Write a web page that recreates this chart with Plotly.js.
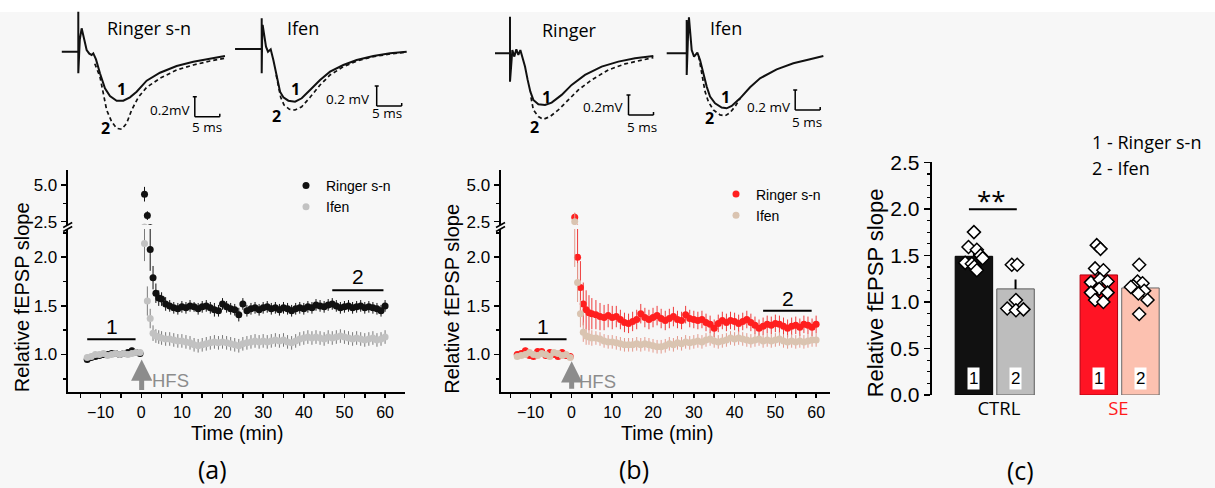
<!DOCTYPE html>
<html><head><meta charset="utf-8">
<script src="https://cdn.plot.ly/plotly-3.0.1.min.js"></script>
<style>html,body{margin:0;padding:0;background:#f7f7f7;} #chart{width:1215px;height:488px;}</style>
</head><body><div id="chart"></div>
<script>
// ---------------- DATA ----------------
// time axis (min) shared by panels (a) and (b)
const timeMin = [-13.3,-12.3,-11.3,-10.3,-9.3,-8.3,-7.3,-6.3,-5.3,-4.3,-3.3,-2.3,-1.3,-0.3,
  0.8,1.5,2.2,2.9,3.6,4.3,5,
  6,7,8,9,10,11,12,13,14,15,16,17,18,19,20,21,22,23,24,25,26,27,28,29,30,
  31,32,33,34,35,36,37,38,39,40,41,42,43,44,45,46,47,48,49,50,51,52,53,54,55,56,57,58,59,60];

// panel (a) CTRL
const ctrlRinger = [0.95,0.97,0.98,0.99,1.00,1.00,1.01,1.01,1.00,1.01,1.02,1.04,1.02,1.01,
  4.37,2.91,2.08,1.79,1.63,1.58,1.57,
  1.52,1.50,1.48,1.47,1.49,1.48,1.50,1.49,1.47,1.49,1.50,1.48,1.46,1.45,1.52,1.49,1.47,1.46,1.41,1.52,1.45,1.47,1.48,1.46,1.48,
  1.49,1.47,1.48,1.46,1.48,1.47,1.45,1.47,1.48,1.47,1.49,1.48,1.51,1.50,1.49,1.51,1.52,1.50,1.48,1.49,1.50,1.48,1.49,1.50,1.48,1.49,1.48,1.47,1.45,1.50];
const ctrlRingerSem = [0.03,0.03,0.03,0.03,0.03,0.03,0.03,0.03,0.03,0.03,0.03,0.03,0.03,0.03,
  0.50,0.30,0.22,0.12,0.10,0.08,0.07,
  0.07,0.06,0.06,0.06,0.06,0.06,0.06,0.05,0.06,0.06,0.06,0.06,0.07,0.06,0.06,0.06,0.06,0.06,0.07,0.06,0.06,0.06,0.06,0.06,0.06,
  0.06,0.06,0.06,0.06,0.06,0.06,0.06,0.06,0.06,0.06,0.06,0.06,0.06,0.06,0.06,0.06,0.06,0.06,0.06,0.06,0.06,0.06,0.06,0.06,0.06,0.06,0.06,0.06,0.06,0.06];
const ctrlIfen = [0.97,0.98,1.00,1.00,1.01,0.99,1.00,1.01,1.00,1.01,1.00,1.01,1.02,1.02,
  2.14,1.55,1.37,1.22,1.19,1.18,1.17,
  1.16,1.16,1.15,1.14,1.14,1.13,1.12,1.10,1.09,1.10,1.11,1.12,1.13,1.12,1.13,1.12,1.11,1.10,1.09,1.11,1.12,1.13,1.14,1.13,1.14,
  1.13,1.14,1.15,1.14,1.15,1.13,1.12,1.14,1.16,1.17,1.18,1.17,1.18,1.17,1.16,1.18,1.17,1.18,1.19,1.18,1.17,1.16,1.17,1.16,1.15,1.16,1.17,1.15,1.16,1.18];
const ctrlIfenSem = [0.03,0.03,0.03,0.03,0.03,0.03,0.03,0.03,0.03,0.03,0.03,0.03,0.03,0.03,
  0.18,0.15,0.10,0.08,0.07,0.07,0.07,
  0.07,0.07,0.07,0.07,0.07,0.07,0.07,0.07,0.07,0.07,0.07,0.07,0.07,0.07,0.07,0.07,0.07,0.07,0.07,0.07,0.07,0.07,0.07,0.07,0.07,
  0.07,0.07,0.07,0.07,0.07,0.07,0.07,0.07,0.07,0.07,0.07,0.07,0.07,0.07,0.07,0.07,0.07,0.07,0.07,0.07,0.07,0.07,0.07,0.07,0.07,0.07,0.07,0.07,0.07,0.07];

// panel (b) SE
const seRinger = [1.00,1.01,1.04,0.99,0.98,1.03,1.03,0.99,1.02,1.00,0.98,1.02,0.99,0.98,
  2.80,2.00,1.69,1.52,1.46,1.43,1.42,
  1.41,1.39,1.38,1.40,1.38,1.39,1.36,1.33,1.32,1.34,1.36,1.42,1.38,1.36,1.38,1.40,1.37,1.35,1.37,1.39,1.36,1.35,1.41,1.37,1.36,
  1.35,1.36,1.33,1.31,1.27,1.32,1.35,1.33,1.35,1.34,1.32,1.34,1.36,1.33,1.30,1.27,1.29,1.31,1.30,1.32,1.31,1.29,1.27,1.29,1.30,1.28,1.31,1.30,1.28,1.31];
const seRingerSem = [0.03,0.03,0.03,0.03,0.03,0.03,0.03,0.03,0.03,0.03,0.03,0.03,0.03,0.03,
  0.30,0.30,0.27,0.22,0.20,0.18,0.16,
  0.15,0.14,0.13,0.12,0.12,0.11,0.10,0.10,0.10,0.10,0.10,0.10,0.10,0.10,0.10,0.10,0.10,0.10,0.10,0.10,0.09,0.09,0.09,0.09,0.09,
  0.09,0.09,0.09,0.09,0.09,0.09,0.09,0.09,0.09,0.09,0.09,0.09,0.09,0.09,0.09,0.09,0.09,0.09,0.09,0.09,0.09,0.09,0.09,0.09,0.09,0.09,0.09,0.09,0.09,0.09];
const seIfen = [0.98,0.99,1.00,1.02,1.00,0.99,1.01,1.00,0.98,1.02,1.01,0.99,1.00,0.97,
  2.50,1.74,1.42,1.23,1.19,1.18,1.17,
  1.17,1.16,1.14,1.13,1.13,1.12,1.11,1.10,1.10,1.10,1.11,1.10,1.11,1.10,1.09,1.08,1.08,1.09,1.11,1.10,1.12,1.11,1.13,1.12,1.13,
  1.14,1.13,1.15,1.16,1.14,1.13,1.14,1.15,1.17,1.16,1.17,1.16,1.15,1.14,1.15,1.16,1.14,1.15,1.14,1.15,1.16,1.14,1.13,1.14,1.13,1.14,1.13,1.14,1.15,1.15];
const seIfenSem = [0.025,0.025,0.025,0.025,0.025,0.025,0.025,0.025,0.025,0.025,0.025,0.025,0.025,0.025,
  0.60,0.20,0.14,0.10,0.09,0.08,0.08,
  0.07,0.07,0.07,0.07,0.07,0.07,0.07,0.07,0.07,0.07,0.07,0.07,0.07,0.07,0.07,0.07,0.07,0.07,0.07,0.07,0.07,0.07,0.07,0.07,0.07,
  0.07,0.07,0.07,0.07,0.07,0.07,0.07,0.07,0.07,0.07,0.07,0.07,0.07,0.07,0.07,0.07,0.07,0.07,0.07,0.07,0.07,0.07,0.07,0.07,0.07,0.07,0.07,0.07,0.07,0.07];

// panel (c) bar means / SEM and individual slices
const groups = ['CTRL', 'SE'];
const barMeans = [1.49, 1.14, 1.29, 1.15];
const barSem = [0.05, 0.10, 0.08, 0.06];
const barLabels = ['1', '2', '1', '2'];
const ctrlRingerPts = [1.75, 1.59, 1.56, 1.50, 1.47, 1.42, 1.41, 1.38, 1.34];
const ctrlRingerJit = [0.00, -0.13, 0.07, 0.16, 0.21, -0.21, -0.05, 0.01, 0.07];
const ctrlIfenPts = [1.40, 1.40, 1.02, 0.93, 0.91, 0.92];
const ctrlIfenJit = [-0.09, 0.04, 0.01, -0.20, 0.01, 0.19];
const seRingerPts = [1.61, 1.57, 1.36, 1.34, 1.21, 1.24, 1.22, 1.14, 1.10, 1.10, 1.02, 1.00];
const seRingerJit = [-0.05, 0.04, -0.09, 0.11, -0.19, 0.03, 0.21, 0.01, -0.19, 0.21, -0.09, 0.11];
const seIfenPts = [1.40, 1.22, 1.20, 1.17, 1.16, 1.12, 1.09, 1.02, 0.87];
const seIfenJit = [-0.03, -0.07, 0.05, -0.17, -0.23, 0.09, -0.05, 0.17, -0.03];

// example fEPSP traces (ms, mV)
const wARms = [-3.3,0,0,0,0.3,0.67,1.2,1.67,2.2,2.67,3.0,3.54,4.33,5.33,6.33,7.67,9.0,10.33,11.67,13.67,16.33,19.67,23.0,26.33,29.33];
const wARsolid = [0,0,0.40,-0.216,0.12,0.234,0.12,0.017,-0.02,-0.033,-0.017,-0.077,-0.216,-0.366,-0.443,-0.49,-0.49,-0.456,-0.40,-0.29,-0.21,-0.143,-0.10,-0.066,-0.043];
const wARdms = [3.3,4.33,5.0,5.67,6.67,7.67,8.67,9.67,10.67,12.0,13.67,16.33,19.67,23.0,26.33,29.33];
const wARdash = [-0.12,-0.25,-0.416,-0.583,-0.70,-0.766,-0.776,-0.716,-0.583,-0.456,-0.356,-0.266,-0.183,-0.133,-0.093,-0.066];
const wAIms = [-5.33,0,0,0,0.1,0.19,0.5,0.86,1.26,1.8,2.33,3.0,3.67,4.33,5.33,6.67,8.0,9.67,11.67,13.67,16.33,19.0,22.33,25.67,29.0];
const wAIsolid = [0,0,0.307,-0.243,0.15,0.24,0.12,0.023,-0.027,-0.003,-0.11,-0.277,-0.427,-0.483,-0.517,-0.527,-0.493,-0.41,-0.31,-0.227,-0.16,-0.11,-0.07,-0.043,-0.027];
const wAIdms = [2.9,3.33,3.8,4.47,5.53,6.67,8.0,9.67,11.67,13.67,16.33,19.0,22.33,25.67,29.0];
const wAIdash = [-0.26,-0.377,-0.483,-0.56,-0.603,-0.61,-0.577,-0.483,-0.36,-0.26,-0.177,-0.12,-0.077,-0.05,-0.03];
const wBRms = [-3.0,0,0,0,0.47,0.87,1.27,1.67,2.07,2.47,3.0,3.53,4.07,4.67,5.67,7.0,8.33,10.33,12.33,15.0,18.33,21.67,25.0,28.67];
const wBRsolid = [0,0,0.366,-0.284,0.033,-0.033,0.04,-0.017,0.033,-0.033,-0.133,-0.266,-0.383,-0.466,-0.51,-0.516,-0.493,-0.416,-0.316,-0.216,-0.133,-0.083,-0.05,-0.027];
const wBRdms = [4.2,4.67,5.67,6.67,8.0,9.67,11.67,13.67,16.33,19.67,23.0,26.33,28.67];
const wBRdash = [-0.44,-0.566,-0.633,-0.66,-0.633,-0.566,-0.466,-0.366,-0.266,-0.166,-0.106,-0.066,-0.043];
const wBIms = [-4.0,0,0,0,0.25,0.45,1.0,1.47,2.13,2.67,3.33,4.0,4.67,5.67,7.0,8.0,9.0,10.67,12.67,14.67,18.0,21.33,24.67,27.33];
const wBIsolid = [0,0,0.333,-0.217,0.15,0.36,0.033,-0.033,0.007,-0.067,-0.2,-0.333,-0.433,-0.5,-0.543,-0.55,-0.526,-0.45,-0.34,-0.25,-0.16,-0.1,-0.06,-0.027];
const wBIdms = [2.4,3.0,3.67,4.33,5.33,6.67,7.67,8.67,9.67,10.67];
const wBIdash = [-0.03,-0.217,-0.383,-0.483,-0.566,-0.616,-0.626,-0.593,-0.533,-0.453];
const scaleMs = 5, scaleMv = 0.2;

// ---------------- LAYOUT HELPERS ----------------
const W = 1215, H = 488;
const xd = (a, b) => [a / W, b / W];
const yd = (top, bot) => [1 - bot / H, 1 - top / H];
const PX = v => v / W, PY = v => 1 - v / H;
const FA = 'Arial, "Liberation Sans", sans-serif';
const FO = '"Open Sans", "Noto Sans", sans-serif';

const traces = [];
function ts(y, sem, color, errColor, xa, ya, name, legend, showlegend) {
  traces.push({type: 'scatter', mode: 'markers', x: timeMin, y: y, xaxis: xa, yaxis: ya,
    name: name, legend: legend, showlegend: showlegend,
    marker: {size: 7, color: color, line: {width: 0}},
    error_y: {type: 'data', array: sem, visible: true, color: errColor, thickness: 1, width: 0}});
}
// panel a
ts(ctrlRinger, ctrlRingerSem, '#111111', '#111111', 'x', 'y', 'Ringer s-n', 'legend', true);
ts(ctrlRinger, ctrlRingerSem, '#111111', '#111111', 'x', 'y2', 'Ringer s-n', 'legend', false);
ts(ctrlIfen, ctrlIfenSem, '#c2c2c2', '#7a7a7a', 'x', 'y', 'Ifen', 'legend', true);
ts(ctrlIfen, ctrlIfenSem, '#c2c2c2', '#7a7a7a', 'x', 'y2', 'Ifen', 'legend', false);
// panel b
ts(seRinger, seRingerSem, '#ff1f1f', '#ee3a3a', 'x2', 'y3', 'Ringer s-n', 'legend2', true);
ts(seRinger, seRingerSem, '#ff1f1f', '#ee3a3a', 'x2', 'y4', 'Ringer s-n', 'legend2', false);
ts(seIfen, seIfenSem, '#dac4b1', '#e39a8c', 'x2', 'y3', 'Ifen', 'legend2', true);
ts(seIfen, seIfenSem, '#dac4b1', '#e39a8c', 'x2', 'y4', 'Ifen', 'legend2', false);

// panel c bars
const barPos = [0, 1, 3, 4];
traces.push({type: 'bar', x: barPos, y: barMeans, xaxis: 'x3', yaxis: 'y5', width: 0.9, showlegend: false,
  marker: {color: ['#111111', '#bdbdbd', '#ff1424', '#fcc1b0'],
           line: {color: ['#000000', '#5a5a5a', '#b00010', '#6a6a6a'], width: 1}},
  error_y: {type: 'data', array: barSem, arrayminus: [0, 0, 0, 0], symmetric: false, color: '#000', thickness: 2, width: 0}});
function pts(vals, jit, pos) {
  traces.push({type: 'scatter', mode: 'markers', xaxis: 'x3', yaxis: 'y5', showlegend: false,
    x: jit.map(j => pos + j), y: vals,
    marker: {symbol: 'diamond', size: 10, color: '#ffffff', line: {color: '#000', width: 1.5}}});
}
pts(ctrlRingerPts, ctrlRingerJit, barPos[0]);
pts(ctrlIfenPts, ctrlIfenJit, barPos[1]);
pts(seRingerPts, seRingerJit, barPos[2]);
pts(seIfenPts, seIfenJit, barPos[3]);

// waveforms
function wave(x, y, xa, ya, dashed) {
  traces.push({type: 'scatter', mode: 'lines', x: x, y: y, xaxis: xa, yaxis: ya, showlegend: false,
    line: {color: '#111', width: dashed ? 1.7 : 2, dash: dashed ? '4px,3px' : 'solid'}});
}
wave(wARms, wARsolid, 'x4', 'y6', false); wave(wARdms, wARdash, 'x4', 'y6', true);
wave(wAIms, wAIsolid, 'x5', 'y7', false); wave(wAIdms, wAIdash, 'x5', 'y7', true);
wave(wBRms, wBRsolid, 'x6', 'y8', false); wave(wBRdms, wBRdash, 'x6', 'y8', true);
wave(wBIms, wBIsolid, 'x7', 'y9', false); wave(wBIdms, wBIdash, 'x7', 'y9', true);

// ---------------- AXES ----------------
const tickF = {family: FA, size: 17, color: '#000'};
const tickFx = {family: FA, size: 16, color: '#000'};
function timeAxis(dom, range, anchor) {
  return {domain: dom, range: range, anchor: anchor, showline: true, linewidth: 2, linecolor: '#000',
    ticks: 'outside', ticklen: 4, tickwidth: 1.5, tickcolor: '#000', tick0: 0, dtick: 10,
    minor: {dtick: 5, tick0: 0, ticks: 'outside', ticklen: 4, tickwidth: 1.5, tickcolor: '#000'},
    showgrid: false, zeroline: false, tickfont: tickFx};
}
function valAxis(dom, range, anchor, dtick, mdtick) {
  return {domain: dom, range: range, anchor: anchor, showline: true, linewidth: 2, linecolor: '#000',
    ticks: 'outside', ticklen: 5, tickwidth: 1.5, tickcolor: '#000', tick0: 0, dtick: dtick, tickformat: '.1f',
    minor: {dtick: mdtick, tick0: 0, ticks: 'outside', ticklen: 3, tickwidth: 1.5, tickcolor: '#000'},
    showgrid: false, zeroline: false, tickfont: tickF};
}
function hidden(dom, range, anchor) {
  return {domain: dom, range: range, anchor: anchor, visible: false, fixedrange: true};
}

const layout = {
  width: W, height: H, autosize: false,
  margin: {l: 0, r: 0, t: 0, b: 0, pad: 0},
  paper_bgcolor: '#f7f7f7', plot_bgcolor: 'rgba(0,0,0,0)',
  font: {family: FA, color: '#000'},
  xaxis: timeAxis(xd(67.7, 405), [-18.1, 64.9], 'y'),
  yaxis: valAxis(yd(229, 392.3), [0.612, 2.29], 'x', 0.5, 0.25),
  yaxis2: valAxis(yd(170, 225), [2.27, 6.02], 'x', 2.5, 1.25),
  xaxis2: timeAxis(xd(500.5, 830), [-17.4, 63.4], 'y3'),
  yaxis3: valAxis(yd(229, 392.3), [0.612, 2.29], 'x2', 0.5, 0.25),
  yaxis4: valAxis(yd(170, 225), [2.27, 6.02], 'x2', 2.5, 1.25),
  xaxis3: {domain: xd(931.7, 1175), range: [-1.014, 4.83], anchor: 'y5', showline: false, ticks: '',
    showgrid: false, zeroline: false, tickvals: [0.6, 3.47],
    ticktext: [groups[0], '<span style="color:#ff1a1a">' + groups[1] + '</span>'],
    tickfont: {family: FO, size: 18.5, color: '#000'}},
  yaxis5: {domain: yd(162.3, 395), range: [0, 2.5], anchor: 'x3', showline: true, linewidth: 2, linecolor: '#000',
    ticks: 'outside', ticklen: 6, tickwidth: 1.5, tickcolor: '#000', tick0: 0, dtick: 0.5, tickformat: '.1f',
    minor: {dtick: 0.125, tick0: 0, ticks: 'outside', ticklen: 3, tickwidth: 1.2, tickcolor: '#000'},
    showgrid: false, zeroline: false, tickfont: {family: FA, size: 21, color: '#000'}},
  xaxis4: hidden(xd(58.3, 228.3), [-4, 30], 'y6'),
  yaxis6: hidden(yd(6.7, 141.7), [-0.9, 0.45], 'x4'),
  xaxis5: hidden(xd(231.7, 411.7), [-6, 30], 'y7'),
  yaxis7: hidden(yd(4, 139), [-0.9, 0.45], 'x5'),
  xaxis6: hidden(xd(490, 660), [-4, 30], 'y8'),
  yaxis8: hidden(yd(8.3, 143.3), [-0.9, 0.45], 'x6'),
  xaxis7: hidden(xd(661.7, 836.7), [-5, 30], 'y9'),
  yaxis9: hidden(yd(8.3, 143.3), [-0.9, 0.45], 'x7'),
  legend: {x: PX(286), y: PY(170), xanchor: 'left', yanchor: 'top', bgcolor: 'rgba(0,0,0,0)',
    font: {family: FA, size: 14, color: '#000'}, tracegroupgap: 0},
  legend2: {x: PX(716), y: PY(178.5), xanchor: 'left', yanchor: 'top', bgcolor: 'rgba(0,0,0,0)',
    font: {family: FA, size: 14, color: '#000'}, tracegroupgap: 0},
  shapes: [], annotations: []
};

const S = layout.shapes, A = layout.annotations;
// white strip at top
S.push({type: 'rect', xref: 'paper', yref: 'paper', x0: 0, x1: 1, y0: PY(12), y1: 1, fillcolor: '#ffffff', line: {width: 0}, layer: 'below'});
// axis breaks
function brk(xp) {
  [[227.5, 222.5], [231.5, 226.5]].forEach(p => S.push({type: 'line', xref: 'paper', yref: 'paper',
    x0: PX(xp - 4.5), y0: PY(p[0]), x1: PX(xp + 4.5), y1: PY(p[1]), line: {color: '#000', width: 1.5}}));
}
brk(67.7); brk(500.5);
function hline(xr, yr, x0, x1, y, w) {
  S.push({type: 'line', xref: xr, yref: yr, x0: x0, x1: x1, y0: y, y1: y, line: {color: '#000', width: w}});
}
function vline(xr, yr, x, y0, y1, w) {
  S.push({type: 'line', xref: xr, yref: yr, x0: x, x1: x, y0: y0, y1: y1, line: {color: '#000', width: w}});
}
function ann(o) { A.push(Object.assign({showarrow: false, xanchor: 'center', yanchor: 'middle'}, o)); }

// panel a annotations
hline('x', 'y', -13.3, -1.4, 1.157, 2);
hline('x', 'y', 47.0, 59.6, 1.66, 2);
ann({xref: 'x', yref: 'y', x: -7.3, y: 1.29, text: '1', font: {family: FA, size: 21}});
ann({xref: 'x', yref: 'y', x: 53.4, y: 1.80, text: '2', font: {family: FA, size: 21}});
ann({xref: 'x', yref: 'y', x: 0.1, y: 0.95, text: '', showarrow: true, ax: 0, ay: 32, arrowhead: 2, arrowsize: 0.85, arrowwidth: 5, arrowcolor: '#8c8c8c', standoff: 0});
ann({xref: 'x', yref: 'y', x: 7.1, y: 0.735, text: 'HFS', font: {family: FA, size: 18.5, color: '#8c8c8c'}});
ann({xref: 'paper', yref: 'paper', x: PX(21.7), y: PY(297.5), text: 'Relative fEPSP slope', textangle: -90, font: {family: FA, size: 20}});
ann({xref: 'paper', yref: 'paper', x: PX(236.7), y: PY(433), text: 'Time (min)', font: {family: FA, size: 19.5}});
ann({xref: 'paper', yref: 'paper', x: PX(212), y: PY(469), text: '(a)', font: {family: FO, size: 25}});

// panel b annotations
hline('x2', 'y3', -12.6, -1.2, 1.157, 2);
hline('x2', 'y3', 47.0, 58.9, 1.449, 2);
ann({xref: 'x2', yref: 'y3', x: -6.9, y: 1.29, text: '1', font: {family: FA, size: 21}});
ann({xref: 'x2', yref: 'y3', x: 53.0, y: 1.58, text: '2', font: {family: FA, size: 21}});
ann({xref: 'x2', yref: 'y3', x: 0.05, y: 0.93, text: '', showarrow: true, ax: 0, ay: 29, arrowhead: 2, arrowsize: 0.85, arrowwidth: 5, arrowcolor: '#8c8c8c', standoff: 0});
ann({xref: 'x2', yref: 'y3', x: 6.4, y: 0.72, text: 'HFS', font: {family: FA, size: 18.5, color: '#8c8c8c'}});
ann({xref: 'paper', yref: 'paper', x: PX(451.7), y: PY(299), text: 'Relative fEPSP slope', textangle: -90, font: {family: FA, size: 20}});
ann({xref: 'paper', yref: 'paper', x: PX(666.7), y: PY(433), text: 'Time (min)', font: {family: FA, size: 19.5}});
ann({xref: 'paper', yref: 'paper', x: PX(634), y: PY(469), text: '(b)', font: {family: FO, size: 25}});

// panel c annotations
hline('x3', 'y5', -0.12, 1.03, 1.995, 2);
ann({xref: 'x3', yref: 'y5', x: 0.43, y: 2.10, text: '**', font: {family: FO, size: 26}});
barPos.forEach((p, i) => ann({xref: 'x3', yref: 'y5', x: p, y: 0.18, text: barLabels[i], bgcolor: '#ffffff', borderpad: 1, font: {family: FA, size: 17}}));
ann({xref: 'paper', yref: 'paper', x: PX(875), y: PY(293.3), text: 'Relative fEPSP slope', textangle: -90, font: {family: FA, size: 22}});
ann({xref: 'paper', yref: 'paper', x: PX(1090), y: PY(141.7), xanchor: 'left', text: '1 - Ringer s-n', font: {family: FO, size: 18}});
ann({xref: 'paper', yref: 'paper', x: PX(1090), y: PY(168.3), xanchor: 'left', text: '2 - Ifen', font: {family: FO, size: 18}});
ann({xref: 'paper', yref: 'paper', x: PX(1020), y: PY(470), text: '(c)', font: {family: FO, size: 25}});

// waveform labels and scale bars
function wlabels(xr, yr, title, tx, ty, l1, l2, mvText, mvx, mvy, msx, msy, sbx, sby) {
  ann({xref: xr, yref: yr, x: tx, y: ty, xanchor: 'left', text: title, font: {family: FO, size: 18}});
  ann({xref: xr, yref: yr, x: l1[0], y: l1[1], text: '1', font: {family: FO, size: 16, weight: 'bold'}});
  ann({xref: xr, yref: yr, x: l2[0], y: l2[1], text: '2', font: {family: FO, size: 16, weight: 'bold'}});
  ann({xref: xr, yref: yr, x: mvx, y: mvy, xanchor: 'right', text: mvText, font: {family: FO, size: 13.5}});
  ann({xref: xr, yref: yr, x: msx, y: msy, text: '5 ms', font: {family: FO, size: 13.5}});
  vline(xr, yr, sbx, sby, sby + scaleMv, 1.5);
  hline(xr, yr, sbx, sbx + scaleMs, sby, 1.5);
  hline(xr, yr, sbx - 0.4, sbx + 0.4, sby + scaleMv, 1.5);
  vline(xr, yr, sbx + scaleMs, sby, sby + 0.03, 1.5);
}
wlabels('x4', 'y6', 'Ringer s-n', 5.3, 0.234, [8.7, -0.376], [5.5, -0.763], '0.2mV', 22.7, -0.583, 25.7, -0.756, 23.3, -0.65);
wlabels('x5', 'y7', 'Ifen', 4.66, 0.21, [6.8, -0.403], [3.0, -0.67], '0.2 mV', 22.0, -0.503, 25.0, -0.643, 23.0, -0.57);
wlabels('x6', 'y8', 'Ringer', 6.0, 0.233, [7.2, -0.44], [4.86, -0.734], '0.2mV', 23.0, -0.54, 26.3, -0.734, 23.7, -0.617);
wlabels('x7', 'y9', 'Ifen', 4.3, 0.253, [7.66, -0.44], [4.52, -0.65], '0.2 mV', 21.3, -0.534, 24.0, -0.684, 21.7, -0.567);

Plotly.newPlot('chart', traces, layout, {displayModeBar: false, staticPlot: true});
</script></body></html>
